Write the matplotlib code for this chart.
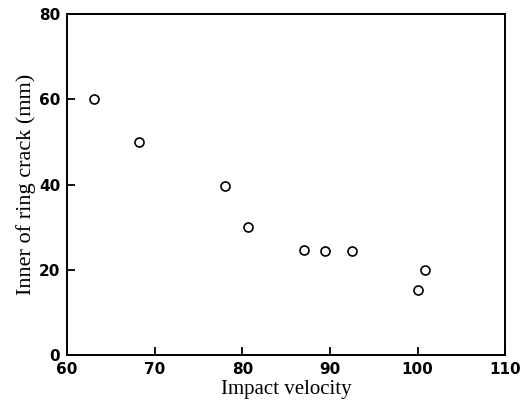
import matplotlib
matplotlib.use('Agg')
import matplotlib.pyplot as plt

# impact velocity vs inner diameter of ring crack
velocity = [63.1, 68.2, 78.0, 80.6, 87.0, 89.4, 92.5, 100.0, 100.8]
ring_crack = [60.0, 50.0, 39.6, 30.0, 24.6, 24.5, 24.5, 15.3, 19.9]

xticks = [60, 70, 80, 90, 100, 110]
yticks = [0, 20, 40, 60, 80]

fig = plt.figure(figsize=(5.29, 4.05), dpi=100)
ax = fig.add_axes([0.127, 0.123, 0.828, 0.842])

ax.scatter(velocity, ring_crack, s=42, facecolors='white', edgecolors='black',
           linewidths=1.2, zorder=3)

ax.set_xlim(60, 110)
ax.set_ylim(0, 80)
ax.set_xticks(xticks)
ax.set_yticks(yticks)
ax.tick_params(direction='in', length=6, width=1.3, pad=5)
for lab in ax.get_xticklabels() + ax.get_yticklabels():
    lab.set_fontweight('bold')
    lab.set_fontsize(11)
    lab.set_family('DejaVu Sans')
for sp in ax.spines.values():
    sp.set_linewidth(1.4)

ax.set_xlabel('Impact velocity', family='Liberation Serif', fontsize=15, labelpad=2)
ax.set_ylabel('Inner of ring crack (mm)', family='Liberation Serif', fontsize=16, labelpad=2)

fig.savefig('out.png', dpi=100)
